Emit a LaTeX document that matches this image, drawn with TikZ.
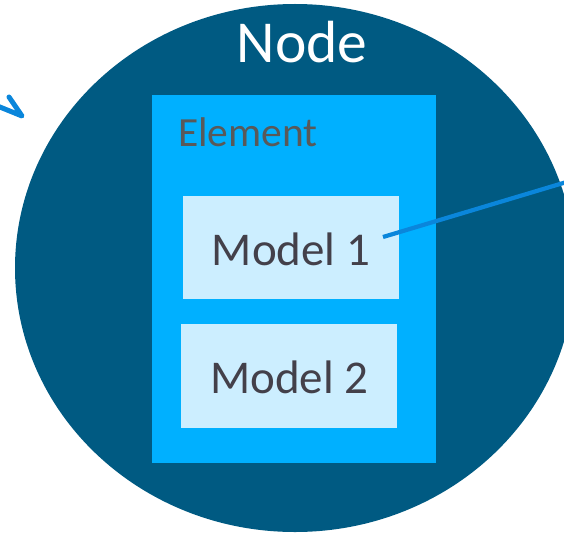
\documentclass[tikz,border=0pt]{standalone}
\usepackage{fontspec}
\setmainfont{Carlito}
\definecolor{nodeblue}{HTML}{005A82}
\definecolor{elemblue}{HTML}{00B0FF}
\definecolor{modelfill}{HTML}{CCEEFF}
\definecolor{modeltext}{HTML}{43404A}
\definecolor{elemtext}{HTML}{595959}
\definecolor{linkblue}{HTML}{0A86DB}
\begin{document}
\begin{tikzpicture}[x=1pt,y=-1pt,
  elementbox/.style={fill=elemblue, draw=none, inner sep=0pt},
  modelbox/.style={fill=modelfill, draw=none, inner sep=0pt, minimum width=216pt},
  modellabel/.style={text=modeltext, inner sep=0pt, anchor=base, font=\fontsize{47}{50}\selectfont},
  link/.style={draw=linkblue, line width=4.2pt},
  barb/.style={draw=linkblue, line width=5pt, line cap=round, line join=round}]
\useasboundingbox (0,0) rectangle (564,532);
\clip (0,0) rectangle (564,532);

% the node itself
\fill[nodeblue] (295,268) ellipse [x radius=280pt, y radius=264pt];
\node[text=white, inner sep=0pt, anchor=base, font=\fontsize{59.5}{62}\selectfont] (nodelabel) at (302,63) {Node};

% element container
\node[elementbox, minimum width=284pt, minimum height=368pt] (element) at (294,279) {};
\node[text=elemtext, inner sep=0pt, anchor=base west, font=\fontsize{41.5}{44}\selectfont] (elemlabel) at (178,146) {Element};

% models
\node[modelbox, minimum height=103pt] (model1) at (291,247.5) {};
\node[modelbox, minimum height=104pt] (model2) at (289,376) {};
\node[modellabel] (m1text) at (291,265) {Model 1};
\node[modellabel] (m2text) at (289.5,393) {Model 2};

% connectors
\coordinate (m1tail) at (383,237);
\coordinate (m1far) at (600,172);
\draw[link] (m1tail) -- (m1far);

% incoming arrow, tip only visible at the edge
\coordinate (inStart) at (-10,103);
\coordinate (inTip) at (22,116);
\coordinate (inBarb) at (9,97);
\draw[barb] (inStart) -- (inTip) -- (inBarb);
\end{tikzpicture}
\end{document}
